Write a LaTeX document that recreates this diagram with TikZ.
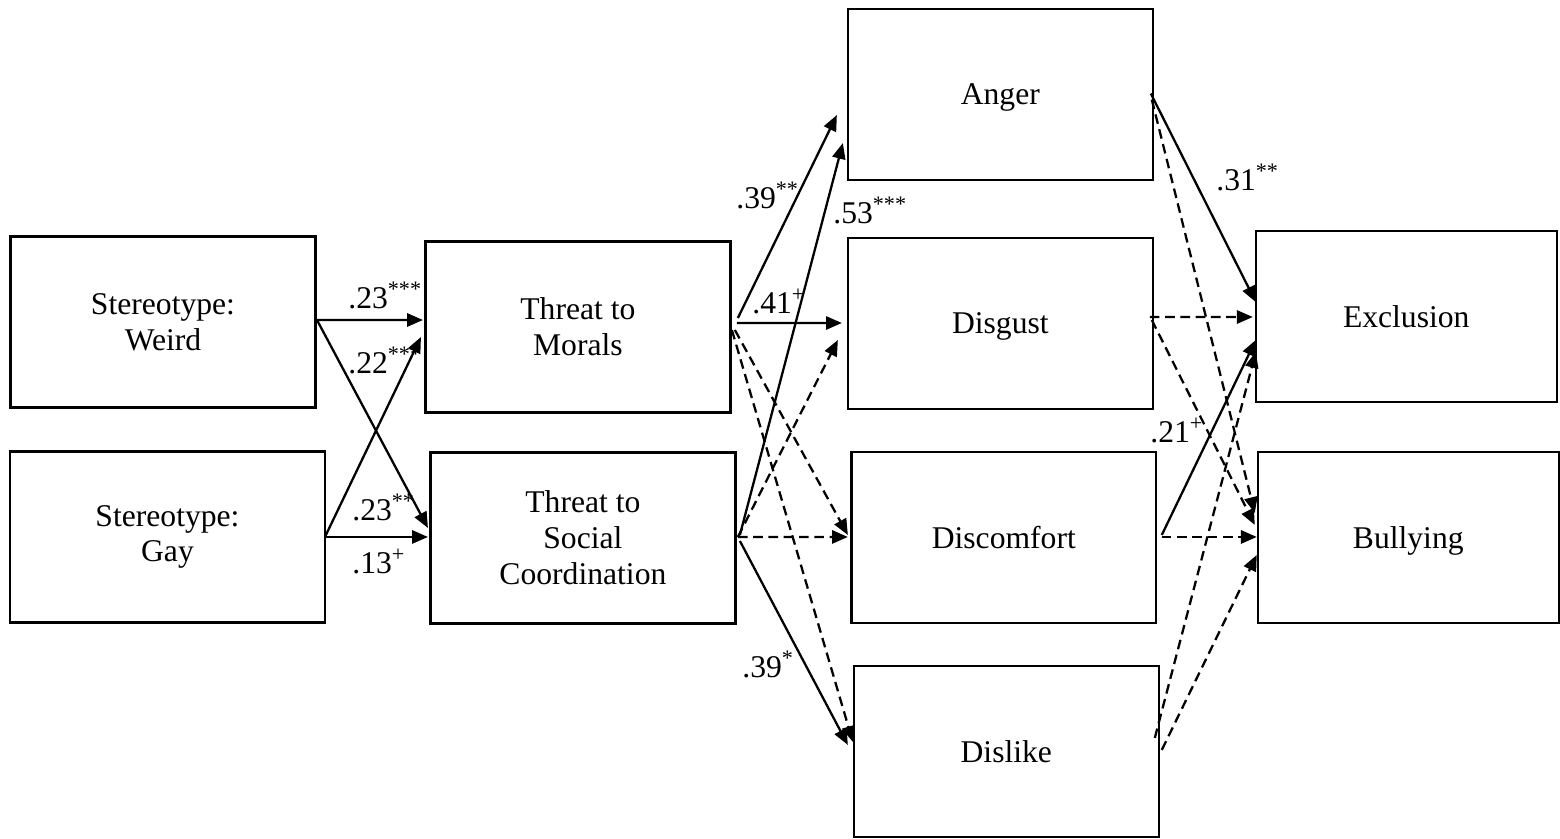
\documentclass[tikz,border=0pt]{standalone}
\usepackage{fontspec}
\setmainfont{Liberation Serif}
\usetikzlibrary{arrows.meta,positioning,calc}

\begin{document}
\begin{tikzpicture}[
    x=0.02cm, y=-0.02cm,
    every node/.style={font=\fontsize{18}{20.4}\selectfont},
    box/.style={rectangle, draw, line width=1.3pt, align=center, minimum width=6.1cm, minimum height=3.42cm, inner sep=0pt, outer sep=0pt},
    onebox/.style={box, text depth=0pt},
    coef/.style={anchor=base west, inner sep=0pt},
    arrow/.style={-{Triangle[length=9pt,width=7.5pt]}, line width=1.3pt},
    darrow/.style={arrow, dash pattern=on 5.5pt off 3.2pt}
]
\useasboundingbox (0,0) rectangle (1560,839);

% Stereotypes
\node[box] (weird) at (163,322) {Stereotype:\\Weird};
\node[box, minimum width=6.3cm, below=0.88cm of weird, xshift=0.09cm] (gay) {Stereotype:\\Gay};

% Threats
\node[box, right=2.2cm of weird, yshift=-0.1cm] (morals) {Threat to\\Morals};
\node[box, below=0.8cm of morals, xshift=0.1cm] (social) {Threat to\\Social\\Coordination};

% Emotions
\node[onebox, right=2.35cm of morals, yshift=0.07cm] (disgust) {Disgust};
\node[onebox, above=1.16cm of disgust] (anger) {Anger};
\node[onebox, below=0.86cm of disgust, xshift=0.07cm] (discomfort) {Discomfort};
\node[onebox, below=0.86cm of discomfort, xshift=0.05cm] (dislike) {Dislike};

% Outcomes
\node[onebox, minimum width=6.02cm, right=2.06cm of disgust, yshift=0.14cm] (exclusion) {Exclusion};
\node[onebox, minimum width=6.02cm, below=1.0cm of exclusion, xshift=0.04cm] (bullying) {Bullying};

% Stereotypes -> threats
\draw[arrow] ($(weird.east)+(1.5,-2)$) -- ($(morals.west)+(-2.5,-7)$);
\draw[arrow] ($(weird.east)+(1.5,-2)$) -- ($(social.west)+(-2.5,-10)$);
\draw[arrow] (gay.east) -- ($(morals.west)+(-4.5,10)$);
\draw[arrow] (gay.east) -- ($(social.west)+(-2.5,-1)$);

% Threats -> emotions
\draw[arrow] ($(morals.east)+(7.5,-9)$) -- ($(anger.south west)+(-11,-65)$);
\draw[arrow] ($(social.east)+(4.5,-3)$) -- ($(anger.south west)+(-5,-37)$);
\draw[arrow] ($(morals.east)+(6.5,-4)$) -- ($(disgust.west)+(-6,-0.5)$);
\draw[darrow] ($(morals.east)+(4.5,3)$) -- ($(discomfort.west)+(-3.5,-2.5)$);
\draw[darrow] ($(morals.east)+(1.5,3)$) -- ($(dislike.west)+(-1,-9.5)$);
\draw[darrow] ($(social.east)+(2.5,-1)$) -- ($(disgust.west)+(-10,16.5)$);
\draw[darrow] ($(social.east)+(2.5,-1)$) -- ($(discomfort.west)+(-3.5,-0.5)$);
\draw[arrow] ($(social.east)+(4.5,3)$) -- ($(dislike.west)+(-6,-6.5)$);

% Emotions -> outcomes
\draw[arrow] ($(anger.east)+(-2,-1)$) -- ($(exclusion.west)+(0,-14.5)$);
\draw[darrow] ($(anger.east)+(-1,5)$) -- ($(bullying.west)+(-3,-24.5)$);
\draw[darrow] ($(disgust.east)+(-3,-6.5)$) -- ($(exclusion.west)+(-3,0.5)$);
\draw[darrow] ($(disgust.east)+(-1,-3.5)$) -- ($(bullying.west)+(-3,-12.5)$);
\draw[arrow] ($(discomfort.east)+(5.5,-2.5)$) -- ($(exclusion.west)+(0,23.5)$);
\draw[darrow] ($(discomfort.east)+(5.5,-0.5)$) -- ($(bullying.west)+(-1,-0.5)$);
\draw[darrow] ($(dislike.east)+(-4,-13.5)$) -- ($(exclusion.west)+(0,35.5)$);
\draw[darrow] ($(dislike.east)+(3,-1.5)$) -- ($(bullying.west)+(-1,17.5)$);

% Coefficients
\node[coef] (c1) at (348,308) {.23\textsuperscript{***}};
\node[coef] (c2) at (348,373) {.22\textsuperscript{***}};
\node[coef] (c3) at (352,520) {.23\textsuperscript{**}};
\node[coef] (c4) at (352,573) {.13\textsuperscript{+}};
\node[coef] (c5) at (736,208) {.39\textsuperscript{**}};
\node[coef] (c6) at (833,223) {.53\textsuperscript{***}};
\node[coef] (c7) at (752,313) {.41\textsuperscript{+}};
\node[coef] (c8) at (742,677) {.39\textsuperscript{*}};
\node[coef] (c9) at (1216,190) {.31\textsuperscript{**}};
\node[coef] (c10) at (1150,442) {.21\textsuperscript{+}};

\end{tikzpicture}
\end{document}
